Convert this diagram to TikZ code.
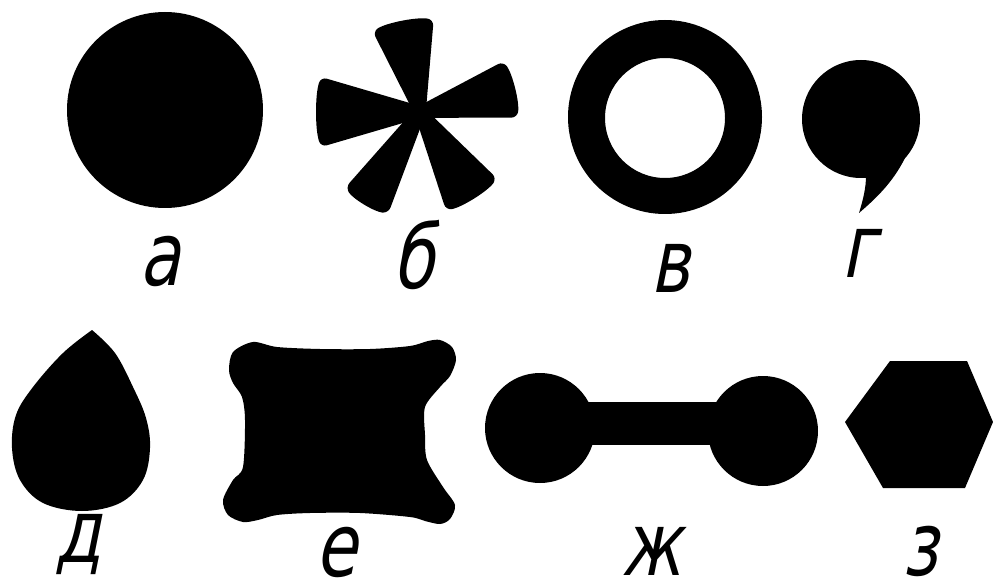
\documentclass[tikz,border=0pt]{standalone}
\usepackage{fontspec}
\newfontfamily\labfont[FakeSlant=0.2,FakeStretch=0.76]{DejaVu Sans}
\newcommand\mypetal[3]{%
  \fill[ink,rounded corners=6pt,rotate=#1] (0,-6) -- (#2,-#3/2)
    .. controls (#2+6,-#3/4) and (#2+6,#3/4) .. (#2,#3/2) -- (0,6) -- cycle;}
\begin{document}
\begin{tikzpicture}[x=1pt,y=-1pt,
  ink/.style={fill=black},
  lab/.style={font=\labfont\fontsize{88}{88}\selectfont, anchor=base, inner sep=0pt, text=black}]
\useasboundingbox[fill=white] (0,0) rectangle (993,588);
% a: solid circle
\fill[ink] (165,110) circle (98pt);
% b: asterisk
\begin{scope}[shift={(420,112)}]
  \mypetal{101}{88}{62}
  \mypetal{14}{93}{58}
  \mypetal{180}{99}{70}
  \mypetal{239}{103}{50}
  \mypetal{302}{97}{60}
\end{scope}
% v: ring
\fill[ink,even odd rule] (665,117) circle (97pt) (665,118) circle (60pt);
% g: comma
\fill[ink] (861,119) circle (59pt);
\fill[ink] (905,158) .. controls (892,184) and (874,200) .. (859,213)
  .. controls (863,200) and (866,188) .. (866,176) -- cycle;
% d: drop
\fill[ink] plot[smooth, tension=0.6] coordinates {(92,330) (115,353) (133,387) (146,418)
  (150,448) (143,480) (120,503) (82,511) (43,503) (20,480) (12,448) (16,415)
  (33,387) (63,353) (92,330)} -- cycle;
% e: square with corner lobes
\fill[ink] plot[smooth cycle, tension=0.5] coordinates {(253,342) (277,347) (320,349)
  (370,349) (410,346) (428,341) (440,340) (452,347) (456,360) (450,376) (440,387)
  (425,407) (425,435) (427,460) (443,487) (455,505) (450,519) (440,524) (425,521)
  (410,517) (360,513) (310,513) (277,515) (258,520) (243,522) (228,515) (223,500)
  (233,480) (243,467) (245,420) (242,397) (233,383) (229,370) (233,352)};
% zh: dumbbell
\fill[ink] (540,428) circle (55pt);
\fill[ink] (763,431) circle (55pt);
\fill[ink] (540,402) rectangle (763,445);
% z: hexagon
\fill[ink] (845,422) -- (890,361) -- (967,361) -- (993,422) -- (965,488) -- (883,488) -- cycle;
% labels
\node[lab] (la) at (160,285) {а};
\node[lab] (lb) at (413,288) {б};
\node[lab] (lv) at (670,292) {в};
\node[lab] (lg) at (859,277) {г};
\node[lab] (ld) at (79,562) {д};
\node[lab] (le) at (336,576) {е};
\node[lab] (lzh) at (652,575) {ж};
\node[lab] (lz) at (920,575) {з};
\end{tikzpicture}
\end{document}
